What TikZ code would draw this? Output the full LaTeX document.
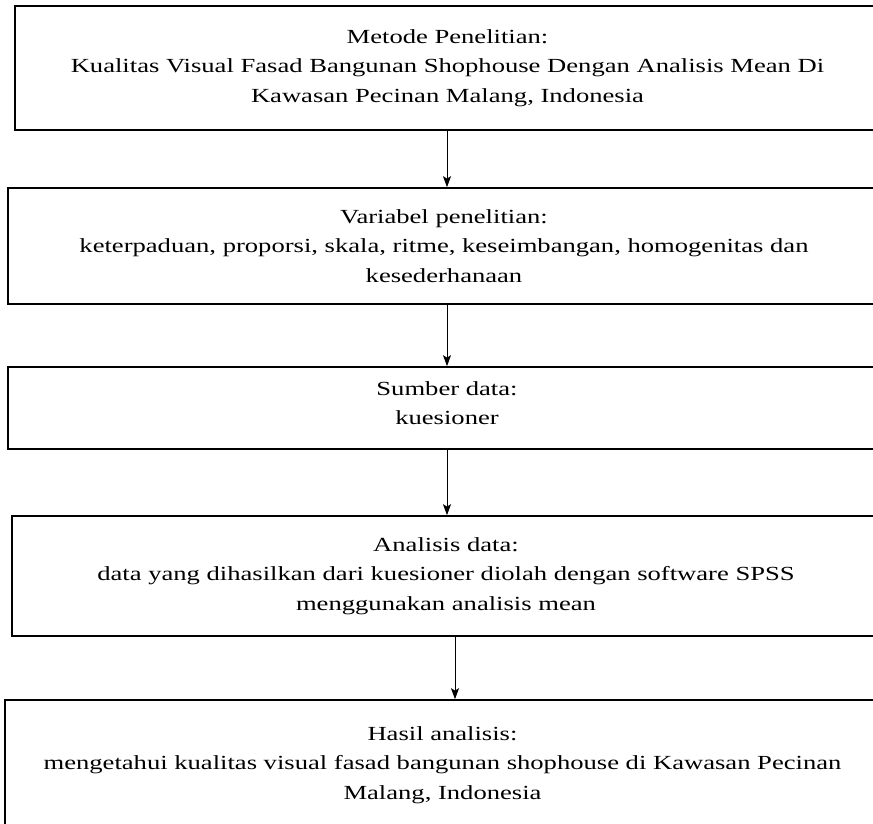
\documentclass[tikz,border=0pt]{standalone}
\usepackage{fontspec}
\setmainfont{Liberation Serif}[FakeStretch=1.33]
\usetikzlibrary{arrows.meta}
\begin{document}
\begin{tikzpicture}[x=1pt,y=-1pt,
  box/.style={draw=black,line width=1.7pt,rectangle,inner sep=0pt,align=center,
    font=\fontsize{20}{29.5}\selectfont},
  arr/.style={line width=0.9pt,-{Stealth[length=11pt,width=8pt,inset=2.5pt]}}]
\useasboundingbox (0,0) rectangle (873,823);
\node[box,minimum width=865pt,minimum height=124pt] (b1) at (447.5,68)
  {Metode Penelitian:\\Kualitas Visual Fasad Bangunan Shophouse Dengan Analisis Mean Di\\Kawasan Pecinan Malang, Indonesia};
\node[box,minimum width=872pt,minimum height=116pt] (b2) at (444,246)
  {Variabel penelitian:\\keterpaduan, proporsi, skala, ritme, keseimbangan, homogenitas dan\\kesederhanaan};
\node[box,minimum width=872pt,minimum height=82pt] (b3) at (444,408) {};
\node[font=\fontsize{20}{29.5}\selectfont,align=center] (t3) at (447,403) {Sumber data:\\kuesioner};
\node[box,minimum width=868pt,minimum height=120pt] (b4) at (446,576)
  {Analisis data:\\data yang dihasilkan dari kuesioner diolah dengan software SPSS\\menggunakan analisis mean};
\node[box,minimum width=875pt,minimum height=130pt] (b5) at (442.5,765)
  {Hasil analisis:\\mengetahui kualitas visual fasad bangunan shophouse di Kawasan Pecinan\\Malang, Indonesia};
\coordinate (x1) at (447,0);
\coordinate (x2) at (447,0);
\coordinate (x3) at (447,0);
\coordinate (x4) at (455,0);
\draw[arr] (b1.south -| x1) -- (b2.north -| x1);
\draw[arr] (b2.south -| x2) -- (b3.north -| x2);
\draw[arr] (b3.south -| x3) -- (b4.north -| x3);
\draw[arr] (b4.south -| x4) -- (b5.north -| x4);
\end{tikzpicture}
\end{document}
